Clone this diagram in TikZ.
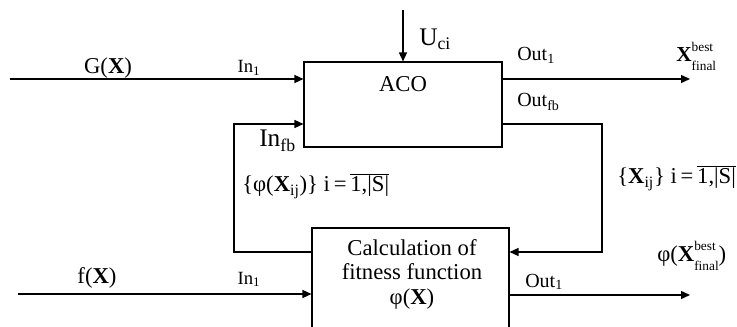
\documentclass[tikz,border=0pt]{standalone}
\usepackage{fontspec}
\setmainfont{Liberation Serif}
\usetikzlibrary{arrows.meta}

% stacked best/final indices and the index range 1,|S|
\newcommand{\bestfinal}{\rlap{\raisebox{0.5em}{\fontsize{10}{10}\selectfont best}}%
  \raisebox{-0.38em}{\fontsize{10}{10}\selectfont final}}
\newcommand{\rangeS}{$\overline{\hbox{1,|S|}}$}

\begin{document}
\begin{tikzpicture}[
  x=0.75pt, y=-0.75pt,
  font=\fontsize{17}{20}\selectfont,
  >={Triangle[length=6.75pt,width=6pt]},
  blk/.style={draw,line width=0.8pt,inner sep=0pt},
  sig/.style={->,line width=1pt},
  lab/.style={inner sep=0pt,anchor=base},
  port/.style={font=\fontsize{15}{17}\selectfont},
  inport/.style={font=\fontsize{14}{16}\selectfont}
]
\useasboundingbox (0,0) rectangle (737,327);
\clip (0,0) rectangle (737,327);   % lower block runs off the bottom edge

% --- blocks ---
\node[blk,minimum width=148.5pt,minimum height=63.75pt] (aco) at (403,104.5) {};
\node[blk,minimum width=147.75pt,minimum height=90pt] (calc) at (410.5,288) {};
\node[lab] (acotxt) at (403,92) {ACO};
\node[inner sep=0pt,align=center,font=\fontsize{17}{18.4}\selectfont] (calctxt) at (412,274)
  {Calculation of\\fitness function\\φ(\textbf{X})};

% --- end points of the signal lines ---
\coordinate (gin)    at (10,79);
\coordinate (utop)   at (403,10);
\coordinate (xout)   at (690,79);
\coordinate (fbl)    at (234,252);   % feedback, left turn
\coordinate (fbr)    at (602,252);   % feedback, right turn
\coordinate (fin)    at (18,294);
\coordinate (phiout) at (690,295);

% --- connectors ---
\draw[sig] (gin) -- (gin -| aco.west);
\draw[sig] (utop) -- (aco.north);
\draw[sig] (aco.east |- xout) -- (xout);
\draw[sig] (calc.west |- fbl) -- (fbl) |- (aco.west |- 0,124);
\draw[sig] (aco.east |- 0,124) -| (fbr) -- (calc.east |- fbr);
\draw[sig] (fin) -- (calc.west |- fin);
\draw[sig] (calc.east |- phiout) -- (phiout);

% --- labels ---
\node[lab] (glab) at (108,74) {G(\textbf{X})};
\node[lab,inport] (in1a) at (249,73) {In\textsubscript{1}};
\node[lab,anchor=base west,font=\fontsize{19}{21}\selectfont] (ulab) at (419,46) {U\textsubscript{ci}};
\node[lab,anchor=base west,port] (out1a) at (517,61) {Out\textsubscript{1}};
\node[lab,anchor=base west,font=\fontsize{16}{18}\selectfont] (xbest) at (676,62) {\textbf{X}\bestfinal};
\node[lab,anchor=base west,port] (outfb) at (517,107) {Out\textsubscript{fb}};
\node[lab,anchor=base west,font=\fontsize{19}{21}\selectfont] (infb) at (259,147) {In\textsubscript{fb}};
\node[lab,anchor=base west] (philab) at (242,192) {\{φ(\textbf{X}\textsubscript{ij})\}~i\,=\,\rangeS};
\node[lab,anchor=base west] (xlab) at (617,184) {\{\textbf{X}\textsubscript{ij}\}~i\,=\,\rangeS};
\node[lab] (flab) at (97,283) {f(\textbf{X})};
\node[lab,inport] (in1b) at (249,284) {In\textsubscript{1}};
\node[lab,anchor=base west,port] (out1b) at (525,287) {Out\textsubscript{1}};
\node[lab,anchor=base west] (phibest) at (657,262) {φ(\textbf{X}\bestfinal)};

\end{tikzpicture}
\end{document}
